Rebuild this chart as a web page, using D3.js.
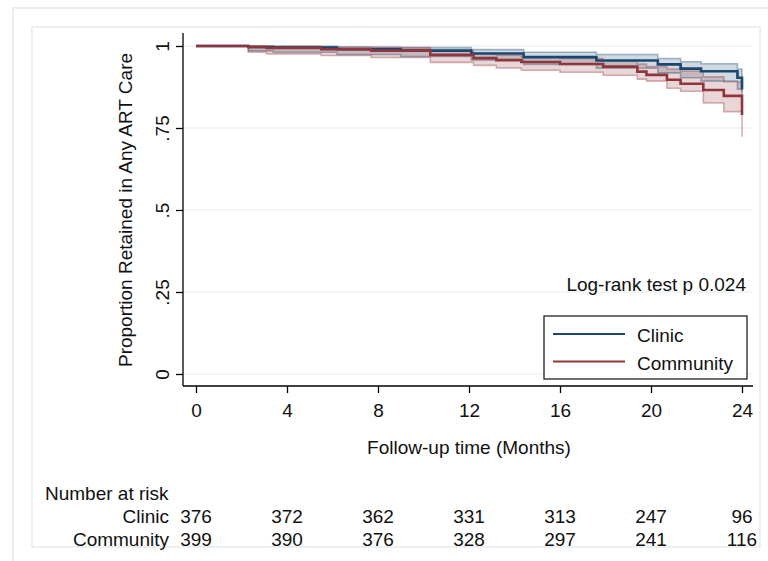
<!DOCTYPE html>
<html>
<head>
<meta charset="utf-8">
<script src="https://cdn.jsdelivr.net/npm/d3@7"></script>
<style>
  body { margin: 0; background: #fff; }
  svg text { font-family: "Liberation Sans", Arial, sans-serif; fill: #111; }
</style>
</head>
<body>
<div id="chart"></div>
<script>
// Kaplan-Meier steps (months, proportion retained)
var clinicTime = [0, 2.3, 3.4, 6.2, 9.0, 12.1, 14.4, 17.6, 20.3, 21.3, 22.2, 23.8, 24];
var clinicSurv = [1, .997, .995, .990, .986, .977, .966, .956, .944, .931, .923, .903, .867];
var clinicLo   = [1, .985, .981, .974, .968, .957, .944, .932, .918, .903, .893, .868, .82];
var clinicHi   = [1, .9995, .999, .997, .995, .989, .981, .974, .962, .952, .946, .930, .905];

var communityTime = [0, 2.3, 3.1, 5.5, 7.7, 10.3, 12.2, 13.2, 14.3, 16.0, 17.9, 19.4, 19.8, 20.7, 21.3, 22.3, 23.2, 24];
var communitySurv = [1, .997, .994, .990, .986, .973, .963, .957, .951, .945, .937, .922, .912, .897, .885, .866, .848, .79];
var communityLo   = [1, .981, .976, .971, .965, .950, .941, .933, .926, .920, .911, .899, .893, .871, .862, .826, .800, .723];
var communityHi   = [1, .9995, .999, .997, .995, .984, .977, .972, .967, .962, .955, .945, .937, .930, .924, .906, .891, .858];

var xTicks = [0, 4, 8, 12, 16, 20, 24];
var yTicks = [0, .25, .5, .75, 1];
var yTickLabels = ["0", ".25", ".5", ".75", "1"];

var groups = ["Clinic", "Community"];
var riskTimes = [0, 4, 8, 12, 16, 20, 24];
var clinicRisk = [376, 372, 362, 331, 313, 247, 96];
var communityRisk = [399, 390, 376, 328, 297, 241, 116];

var W = 768, H = 561;
var navy = "#1a476f", maroon = "#90353b";

var svg = d3.select("#chart").append("svg")
    .attr("width", W)
    .attr("height", H);

svg.append("rect").attr("width", W).attr("height", H).attr("fill", "#fff");

// graph region frames
svg.append("rect")
    .attr("x", 13).attr("y", 8).attr("width", 780).attr("height", 580)
    .attr("fill", "none").attr("stroke", "#e4eaee").attr("stroke-width", 1.5);
svg.append("rect")
    .attr("x", 32).attr("y", 27).attr("width", 728).attr("height", 520)
    .attr("fill", "none").attr("stroke", "#dfe6eb").attr("stroke-width", 1.2);

var x = d3.scaleLinear().domain([0, 24]).range([196, 742]);
var y = d3.scaleLinear().domain([0, 1]).range([374, 46]);
var plotL = 183, plotR = 753, plotT = 33, plotB = 386;

// grid
svg.append("g")
    .selectAll("line")
    .data(yTicks)
    .join("line")
    .attr("x1", plotL).attr("x2", plotR - 1)
    .attr("y1", d => y(d)).attr("y2", d => y(d))
    .attr("stroke", "#e6edf1")
    .attr("stroke-width", 1.2);

function toRows(t, s, lo, hi) {
    return t.map((v, i) => ({ t: v, s: s[i], lo: lo[i], hi: hi[i] }));
}
var clinic = toRows(clinicTime, clinicSurv, clinicLo, clinicHi);
var community = toRows(communityTime, communitySurv, communityLo, communityHi);

var band = d3.area()
    .curve(d3.curveStepAfter)
    .x(d => x(d.t))
    .y0(d => y(d.lo))
    .y1(d => y(d.hi));
var edge = key => d3.line()
    .curve(d3.curveStepAfter)
    .x(d => x(d.t))
    .y(d => y(d[key]));

function drawBand(rows, fill, stroke) {
    var g = svg.append("g");
    g.append("path").datum(rows)
        .attr("d", band)
        .attr("fill", fill)
        .attr("fill-opacity", 0.2);
    ["lo", "hi"].forEach(k => {
        g.append("path").datum(rows)
            .attr("d", edge(k))
            .attr("fill", "none")
            .attr("stroke", stroke)
            .attr("stroke-opacity", 0.38)
            .attr("stroke-width", 1.6);
    });
}
drawBand(clinic, navy, navy);
drawBand(community, maroon, maroon);

[[clinic, navy], [community, maroon]].forEach(p => {
    svg.append("path").datum(p[0])
        .attr("d", edge("s"))
        .attr("fill", "none")
        .attr("stroke", p[1])
        .attr("stroke-width", 2.6);
});

// axes
var yAxis = svg.append("g")
    .attr("transform", "translate(" + plotL + ",0)")
    .call(d3.axisLeft(y).tickValues(yTicks)
        .tickFormat((d, i) => yTickLabels[i])
        .tickSize(7).tickSizeOuter(0));
yAxis.select(".domain").remove();
yAxis.append("line")
    .attr("y1", plotT).attr("y2", plotB)
    .attr("stroke", "#000").attr("stroke-width", 1.3);
yAxis.selectAll(".tick line").attr("stroke", "#000").attr("stroke-width", 1.3);
yAxis.selectAll(".tick text")
    .attr("transform", "rotate(-90)")
    .attr("x", 0).attr("y", -14).attr("dy", 0)
    .attr("text-anchor", "middle")
    .style("font-size", "19px")
    .style("font-family", "'Liberation Sans', Arial, sans-serif")
    .attr("fill", "#111");

var xAxis = svg.append("g")
    .attr("transform", "translate(0," + plotB + ")")
    .call(d3.axisBottom(x).tickValues(xTicks).tickSize(7).tickSizeOuter(0));
xAxis.select(".domain").remove();
xAxis.append("line")
    .attr("x1", plotL).attr("x2", plotR)
    .attr("stroke", "#000").attr("stroke-width", 1.3);
xAxis.selectAll(".tick line").attr("stroke", "#000").attr("stroke-width", 1.3);
xAxis.selectAll(".tick text")
    .attr("y", 31).attr("dy", 0)
    .style("font-size", "19px")
    .style("font-family", "'Liberation Sans', Arial, sans-serif")
    .attr("fill", "#111");

// titles
svg.append("text")
    .attr("transform", "translate(132," + y(0.5) + ") rotate(-90)")
    .attr("text-anchor", "middle")
    .style("font-size", "19px")
    .text("Proportion Retained in Any ART Care");
svg.append("text")
    .attr("x", x(12)).attr("y", 454)
    .attr("text-anchor", "middle")
    .style("font-size", "19px")
    .text("Follow-up time (Months)");

// note
svg.append("text")
    .attr("x", 746).attr("y", 291)
    .attr("text-anchor", "end")
    .style("font-size", "19px")
    .text("Log-rank test p 0.024");

// legend
var leg = svg.append("g");
leg.append("rect")
    .attr("x", 544).attr("y", 316).attr("width", 203).attr("height", 63)
    .attr("fill", "#fff").attr("stroke", "#222").attr("stroke-width", 1.3);
[navy, maroon].forEach((c, i) => {
    var ly = 334 + i * 27.5;
    leg.append("line")
        .attr("x1", 553).attr("x2", 625).attr("y1", ly).attr("y2", ly)
        .attr("stroke", c).attr("stroke-width", 2.2);
    leg.append("text")
        .attr("x", 637).attr("y", ly + 8)
        .style("font-size", "19px")
        .text(groups[i]);
});

// number at risk table
svg.append("text")
    .attr("x", 45).attr("y", 500)
    .style("font-size", "19px")
    .text("Number at risk");
[clinicRisk, communityRisk].forEach((row, i) => {
    var ry = 523 + i * 22.5;
    svg.append("text")
        .attr("x", 169).attr("y", ry)
        .attr("text-anchor", "end")
        .style("font-size", "19px")
        .text(groups[i]);
    svg.append("g")
        .selectAll("text")
        .data(row)
        .join("text")
        .attr("x", (d, j) => x(riskTimes[j]))
        .attr("y", ry)
        .attr("text-anchor", "middle")
        .style("font-size", "19px")
        .text(d => d);
});
</script>
</body>
</html>
